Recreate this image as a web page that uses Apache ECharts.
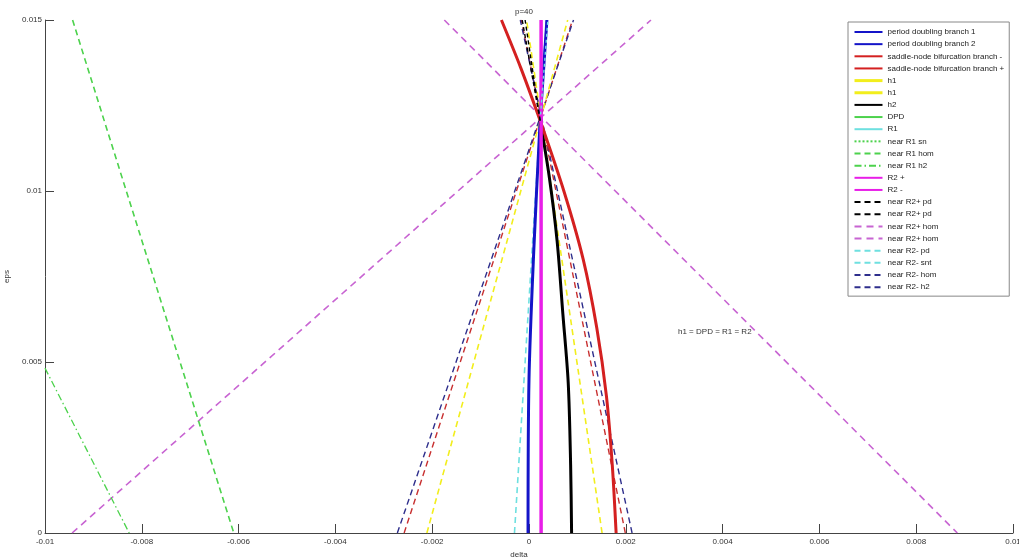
<!DOCTYPE html>
<html>
<head>
<meta charset="utf-8">
<script src="https://cdn.jsdelivr.net/npm/echarts@6/dist/echarts.min.js"></script>
<style>
html,body{margin:0;padding:0;background:#fff;}
#chart{width:1019px;height:558px;}
</style>
</head>
<body>
<div id="chart"></div>
<script>
// ---- tick labels ----
const xTicks = [-0.01, -0.008, -0.006, -0.004, -0.002, 0, 0.002, 0.004, 0.006, 0.008, 0.01];
const yTicks = [0, 0.005, 0.01, 0.015];

// ---- curves / lines [delta, eps] ----
const pdBranch1 = [[-0.00002, 0], [0.0, 0.0045], [0.0001, 0.0083], [0.00023, 0.01206]];
const pdBranch2 = [[0.00023, 0.01206], [0.00037, 0.015]];
const snBranchMinus = [[0.0018, 0], [0.00172, 0.002], [0.0016, 0.004], [0.0014, 0.006], [0.00112, 0.008], [0.00072, 0.01], [0.00023, 0.01206]];
const snBranchPlus = [[0.00023, 0.01206], [-0.00017, 0.0136], [-0.00057, 0.015]];
const h1a = [[-0.00211, 0], [0.0008, 0.015]];
const h1b = [[0.00151, 0], [-0.00005, 0.015]];
const h2 = [[0.00088, 0], [0.00086, 0.002], [0.00081, 0.0044], [0.0007, 0.0064], [0.00058, 0.00855], [0.00042, 0.0104], [0.00023, 0.01206]];
const dpd = [[0.00023, 0.01206]];
const r1 = [[0.00023, 0.01206]];
const nearR1sn = [[0.00023, 0.01206]];
const nearR1hom = [[-0.00943, 0.015], [-0.0061, 0]];
const nearR1h2 = [[-0.01, 0.00482], [-0.00826, 0]];
const r2plus = [[0.00025, 0], [0.00025, 0.015]];
const r2minus = [[0.00025, 0], [0.00025, 0.015]];
const nearR2plusPd1 = [[0.00023, 0.01206], [-0.00008, 0.015]];
const nearR2plusPd2 = [[0.00023, 0.01206], [-0.00014, 0.015]];
const nearR2plusHom1 = [[-0.00944, 0], [0.00252, 0.015]];
const nearR2plusHom2 = [[-0.00175, 0.015], [0.00885, 0]];
const nearR2minusPd = [[-0.0003, 0], [0.00036, 0.015]];
const nearR2minusSnt = [[0.00023, 0.01206], [0.00039, 0.015]];
const nearR2minusHom = [[-0.00272, 0], [0.00092, 0.015]];
const nearR2minusH2 = [[0.00213, 0], [-0.00018, 0.015]];
const snTangentA = [[-0.00258, 0], [0.0009, 0.015]];
const snTangentB = [[0.00199, 0], [-0.00016, 0.015]];

const FONT = 'Liberation Sans, Arial, sans-serif';
const C = {
  blue: '#1414c8', red: '#d42020', yellow: '#f2ee1c', black: '#000000',
  green: '#4cd24c', cyan: '#6ee0e0', mag: '#e81ee8', magD: '#c864d2',
  navy: '#2e2e8c', redD: '#c83030'
};
const DASH = [6, 4];

function ser(name, data, color, width, type, z, smooth) {
  return {
    name: name, type: 'line', data: data, symbol: 'none', showSymbol: false,
    smooth: smooth || false,
    lineStyle: { color: color, width: width, type: type },
    itemStyle: { color: color },
    emphasis: { disabled: true }, animation: false, z: z || 2
  };
}

const series = [
  ser('snTangentA', snTangentA, C.redD, 1.4, DASH),
  ser('snTangentB', snTangentB, C.redD, 1.4, DASH),
  ser('near R2- hom', nearR2minusHom, C.navy, 1.4, DASH),
  ser('near R2- h2', nearR2minusH2, C.navy, 1.4, DASH),
  ser('h1#1', h1a, C.yellow, 1.6, DASH),
  ser('h1#2', h1b, C.yellow, 1.6, DASH),
  ser('near R2+ hom#1', nearR2plusHom1, C.magD, 1.6, [7, 5]),
  ser('near R2+ hom#2', nearR2plusHom2, C.magD, 1.6, [7, 5]),
  ser('near R1 hom', nearR1hom, C.green, 1.6, DASH),
  ser('near R1 h2', nearR1h2, C.green, 1.3, [7, 3, 1.5, 3]),
  ser('near R1 sn', nearR1sn, C.green, 1, 'dotted'),
  ser('near R2- pd', nearR2minusPd, C.cyan, 1.6, DASH),
  ser('DPD', dpd, C.green, 1.5, 'solid'),
  ser('R1', r1, C.cyan, 1.5, 'solid'),
  ser('period doubling branch 1', pdBranch1, C.blue, 3, 'solid', 3, 0.3),
  ser('period doubling branch 2', pdBranch2, C.blue, 3, 'solid', 3),
  ser('near R2- snt', nearR2minusSnt, C.cyan, 1.4, [3, 3], 4),
  ser('h2', h2, C.black, 3, 'solid', 3, 0.3),
  ser('saddle-node bifurcation branch -', snBranchMinus, C.red, 3, 'solid', 3, 0.3),
  ser('saddle-node bifurcation branch +', snBranchPlus, C.red, 3, 'solid', 3, 0.3),
  ser('R2 +', r2plus, C.mag, 3, 'solid', 3),
  ser('R2 -', r2minus, C.mag, 3, 'solid', 3),
  ser('near R2+ pd#1', nearR2plusPd1, C.black, 1.4, [4, 3], 4),
  ser('near R2+ pd#2', nearR2plusPd2, C.black, 1.4, [4, 3], 4)
];

const legendNames = [
  'period doubling branch 1', 'period doubling branch 2',
  'saddle-node bifurcation branch -', 'saddle-node bifurcation branch +',
  'h1#1', 'h1#2', 'h2', 'DPD', 'R1', 'near R1 sn', 'near R1 hom', 'near R1 h2',
  'R2 +', 'R2 -', 'near R2+ pd#1', 'near R2+ pd#2', 'near R2+ hom#1', 'near R2+ hom#2',
  'near R2- pd', 'near R2- snt', 'near R2- hom', 'near R2- h2'
];
const legendData = legendNames.map(function (n) {
  if (n.indexOf('h1#') === 0) return { name: n, lineStyle: { type: 'solid', width: 3 } };
  if (n === 'near R2- snt') return { name: n, lineStyle: { type: DASH } };
  if (n.indexOf('near R2+ pd') === 0) return { name: n, lineStyle: { type: DASH } };
  return { name: n };
});

function fmt(v) { return String(parseFloat(Number(v).toFixed(4))); }

const chart = echarts.init(document.getElementById('chart'), null, { renderer: 'canvas' });
chart.setOption({
  backgroundColor: '#ffffff',
  animation: false,
  title: [
    { text: 'p=40', left: 510, top: 3, textStyle: { fontFamily: FONT, fontSize: 8, fontWeight: 'normal', color: '#333' } },
    { text: 'h1 = DPD = R1 = R2', left: 673, top: 323, textStyle: { fontFamily: FONT, fontSize: 8, fontWeight: 'normal', color: '#333' } }
  ],
  grid: { left: 45, right: 6, top: 20, bottom: 25, containLabel: false, outerBoundsMode: 'none' },
  legend: {
    orient: 'vertical', left: 848, top: 22,
    padding: [5, 5, 4, 5],
    itemWidth: 28, itemHeight: 10, itemGap: 2.15,
    backgroundColor: '#fff', borderColor: '#888', borderWidth: 1,
    itemStyle: { opacity: 0 },
    lineStyle: { opacity: 1 },
    textStyle: { fontFamily: FONT, fontSize: 8, color: '#222', lineHeight: 10 },
    data: legendData,
    formatter: function (n) { return n.split('#')[0]; },
    selectedMode: false
  },
  xAxis: {
    type: 'value', min: -0.01, max: 0.01, interval: 0.002,
    name: 'delta', nameLocation: 'middle', nameGap: 16,
    nameTextStyle: { fontFamily: FONT, fontSize: 8, color: '#333', padding: [0, 20, 0, 0] },
    axisLine: { show: true, onZero: false, lineStyle: { color: '#444', width: 1 } },
    axisTick: { show: true, inside: true, length: 9, lineStyle: { color: '#444' } },
    axisLabel: { fontFamily: FONT, fontSize: 8, color: '#333', margin: 5, hideOverlap: false,
      formatter: function (v) { return xTicks.indexOf(parseFloat(v.toFixed(4))) >= 0 ? fmt(v) : ''; } },
    splitLine: { show: false }
  },
  yAxis: {
    type: 'value', min: 0, max: 0.015, interval: 0.005,
    name: 'eps', nameLocation: 'middle', nameGap: 24, nameRotate: 90,
    nameTextStyle: { fontFamily: FONT, fontSize: 8, color: '#333' },
    axisLine: { show: true, onZero: false, lineStyle: { color: '#444', width: 1 } },
    axisTick: { show: true, inside: true, length: 9, lineStyle: { color: '#444' } },
    axisLabel: { fontFamily: FONT, fontSize: 8, color: '#333', margin: 3,
      formatter: function (v) { return yTicks.indexOf(parseFloat(v.toFixed(4))) >= 0 ? fmt(v) : ''; } },
    splitLine: { show: false }
  },
  series: series
});
</script>
</body>
</html>
